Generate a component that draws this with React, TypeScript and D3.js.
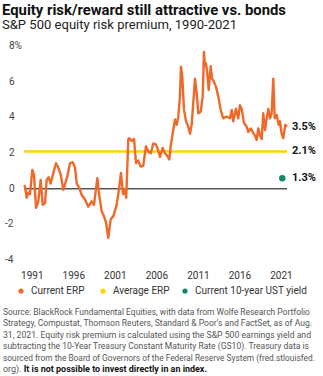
import React, { useLayoutEffect, useRef } from "react";
import * as d3 from "d3";

const title = "Equity risk/reward still attractive vs. bonds";
const subtitle = "S&P 500 equity risk premium, 1990-2021";

const erpYears = [
  1990.0, 1990.12, 1990.33, 1990.5, 1990.72, 1991.0, 1991.2, 1991.45, 1991.72, 1992.01, 1992.25, 1992.53, 1992.73,
  1992.97, 1993.21, 1993.53, 1993.85, 1994.13, 1994.42, 1994.73, 1994.94, 1995.21, 1995.54, 1995.86,
  1996.14, 1996.35, 1996.66, 1996.95, 1997.35, 1997.74, 1998.15, 1998.43, 1998.83, 1999.07, 1999.36,
  1999.64, 1999.88, 2000.15, 2000.44, 2000.75, 2001.16, 2001.38, 2001.68, 2001.92, 2002.1, 2002.31,
  2002.56, 2002.68, 2002.97, 2003.25, 2003.49, 2003.76, 2004.05, 2004.36, 2004.69, 2004.97, 2005.26,
  2005.57, 2005.89, 2006.17, 2006.38, 2006.7, 2006.98, 2007.26, 2007.5, 2007.66, 2007.9, 2008.18,
  2008.39, 2008.58, 2008.78, 2008.9, 2009.06, 2009.27, 2009.51, 2009.78, 2009.99, 2010.19, 2010.38,
  2010.59, 2010.79, 2010.99, 2011.28, 2011.52, 2011.67, 2011.79, 2011.91, 2012.07, 2012.24, 2012.48,
  2012.64, 2012.79, 2013.12, 2013.39, 2013.68, 2014.0, 2014.41, 2014.8, 2015.01, 2015.2, 2015.52,
  2015.8, 2016.0, 2016.21, 2016.49, 2016.81, 2017.0, 2017.29, 2017.54, 2017.81, 2018.02, 2018.21,
  2018.42, 2018.62, 2018.81, 2019.02, 2019.22, 2019.42, 2019.62, 2019.82, 2020.02, 2020.19, 2020.43,
  2020.67, 2020.82, 2021.03, 2021.22, 2021.46, 2021.67,
];

const erpValues = [
  0.2, 0.13, -0.5, -0.2, -0.3, 1.07, 0.8, -1.07, -0.7, 0.5, -0.9, -0.8, 0.5,
  0.65, 0.3, 0.9, 1.44, 1.2, 0.8, -0.05, 0.25, 0.7, 1.44, 1.5,
  1.2, 0.3, 0.05, -0.35, -0.6, -1.0, -0.7, -0.9, 0.6, -0.4, -1.27,
  -1.55, -1.9, -2.75, -1.7, -1.55, -0.9, -0.2, 0.9, -0.3, 0.0, -0.5,
  2.8, 2.85, 2.7, 2.8, 1.45, 1.6, 1.25, 1.3, 2.4, 2.1, 2.0,
  2.55, 2.5, 2.15, 1.8, 2.3, 2.0, 1.85, 1.65, 2.4, 3.1, 3.9,
  3.6, 4.06, 5.2, 6.87, 6.3, 4.44, 3.8, 3.5, 3.1, 3.6, 4.8,
  6.2, 5.4, 4.25, 4.35, 5.2, 7.7, 6.9, 7.06, 6.5, 5.56, 6.9,
  6.2, 6.1, 5.75, 5.2, 4.44, 3.97, 4.06, 3.97, 4.44, 3.8, 4.5,
  3.97, 4.7, 4.5, 3.7, 3.5, 3.2, 3.4, 3.2, 3.0, 2.75, 3.4,
  3.0, 2.8, 4.25, 3.3, 3.97, 4.5, 3.97, 4.25, 6.2, 3.97, 4.15,
  3.6, 3.8, 3.1, 2.85, 3.6, 3.5,
];

const averageErp = 2.1;
const ustYieldLabelValue = 1.3;
const ustDotLevel = 0.6;
const currentErp = 3.5;

const yTicks = [8, 6, 4, 2, 0, -2, -4];
const xTicks = [1991, 1996, 2001, 2006, 2011, 2016, 2021];

const legendItems = [
  { label: "Current ERP", color: "#EF6A2A" },
  { label: "Average ERP", color: "#FFD400" },
  { label: "Current 10-year UST yield", color: "#10876A" },
];

const footnoteLines = [
  "Source: BlackRock Fundamental Equities, with data from Wolfe Research Portfolio",
  "Strategy, Compustat, Thomson Reuters, Standard & Poor\u2019s and FactSet, as of Aug.",
  "31, 2021. Equity risk premium is calculated using the S&P 500 earnings yield and",
  "subtracting the 10-Year Treasury Constant Maturity Rate (GS10). Treasury data is",
  "sourced from the Board of Governors of the Federal Reserve System (fred.stlouisfed.",
];
const footnoteLast = "org). ";
const footnoteBold = "It is not possible to invest directly in an index.";
const footnoteWidths = [307, 309, 308, 306, 312, 204];

export default function App() {
  const W = 323;
  const H = 376;
  const x = d3.scaleLinear().domain([1990, 2021.67]).range([24, 287]);
  const y = d3.scaleLinear().domain([-4, 8]).range([260, 46.6]);
  const data = erpYears.map((yr, i) => [yr, erpValues[i]] as [number, number]);
  const line = d3
    .line<[number, number]>()
    .x((d) => x(d[0]))
    .y((d) => y(d[1]))
    .curve(d3.curveLinear);

  const footRefs = useRef<(SVGTextElement | null)[]>([]);

  useLayoutEffect(() => {
    footRefs.current.forEach((el, i) => {
      if (!el) return;
      const w = el.getComputedTextLength();
      if (w > 0) {
        const s = footnoteWidths[i] / w;
        const ty = 315 + i * 11.4;
        el.setAttribute("transform", `translate(3,${ty}) scale(${s},1)`);
      }
    });
  }, []);

  const orange = legendItems[0].color;
  const yellow = legendItems[1].color;
  const green = legendItems[2].color;
  const sans = "Roboto, 'Noto Sans', Arial, sans-serif";
  const narrow = "'Liberation Sans Narrow', 'Arial Narrow', Roboto, sans-serif";
  const x0 = x.range()[0];
  const x1 = x.range()[1];
  const legendX = [21, 103, 185];

  return (
    <svg
      width={W}
      height={H}
      style={{ position: "absolute", left: 0, top: 0, background: "#fff" }}
    >
      <text x={2} y={15} fontFamily={sans} fontWeight={700} fontSize={14.5} fill="#111" textLength={284} lengthAdjust="spacingAndGlyphs">
        {title}
      </text>
      <text x={2} y={29} fontFamily={sans} fontSize={12} fill="#222" textLength={235} lengthAdjust="spacingAndGlyphs">
        {subtitle}
      </text>

      {yTicks.map((t) => (
        <text
          key={t}
          x={t < 0 ? 5 : 9}
          y={y(t)}
          dominantBaseline="middle"
          fontFamily={sans}
          fontSize={10}
          fill="#444"
        >
          {t === 8 ? "8%" : String(t)}
        </text>
      ))}

      <line x1={x0} x2={x1} y1={y(0)} y2={y(0)} stroke="#555" strokeWidth={1.5} />
      <line x1={x0} x2={x1} y1={y(averageErp)} y2={y(averageErp)} stroke={yellow} strokeWidth={2.5} />

      <path d={line(data) || ""} fill="none" stroke={orange} strokeWidth={2.4} strokeLinejoin="round" />

      <circle cx={x(2021.1)} cy={y(ustDotLevel)} r={3.2} fill={green} />

      <text x={292} y={y(currentErp)} dominantBaseline="middle" fontFamily={sans} fontWeight={700} fontSize={11} fill="#111">
        {currentErp.toFixed(1)}%
      </text>
      <text x={292} y={y(averageErp)} dominantBaseline="middle" fontFamily={sans} fontWeight={700} fontSize={11} fill="#111">
        {averageErp.toFixed(1)}%
      </text>
      <text x={292} y={y(ustDotLevel)} dominantBaseline="middle" fontFamily={sans} fontWeight={700} fontSize={11} fill="#111">
        {ustYieldLabelValue.toFixed(1)}%
      </text>

      {xTicks.map((t) => (
        <text key={t} x={x(t)} y={279} textAnchor="middle" fontFamily={sans} fontSize={10} fill="#333">
          {t}
        </text>
      ))}

      {legendItems.map((it, i) => (
        <g key={it.label}>
          <circle cx={legendX[i]} cy={291} r={2.6} fill={it.color} />
          <text x={legendX[i] + 10} y={291} dominantBaseline="middle" fontFamily={sans} fontSize={10} fill="#333">
            {it.label}
          </text>
        </g>
      ))}

      {footnoteLines.map((l, i) => (
        <text
          key={i}
          ref={(el) => {
            footRefs.current[i] = el;
          }}
          transform={`translate(3,${315 + i * 11.4}) scale(0.8,1)`}
          fontFamily={narrow}
          fontSize={9.5}
          fill="#555"
        >
          {l}
        </text>
      ))}
      <text
        ref={(el) => {
          footRefs.current[5] = el;
        }}
        transform={`translate(3,${315 + 5 * 11.4}) scale(0.8,1)`}
        fontFamily={narrow}
        fontSize={9.5}
        fill="#555"
      >
        {footnoteLast}
        <tspan fontWeight={700} fill="#111">{footnoteBold}</tspan>
      </text>
    </svg>
  );
}
